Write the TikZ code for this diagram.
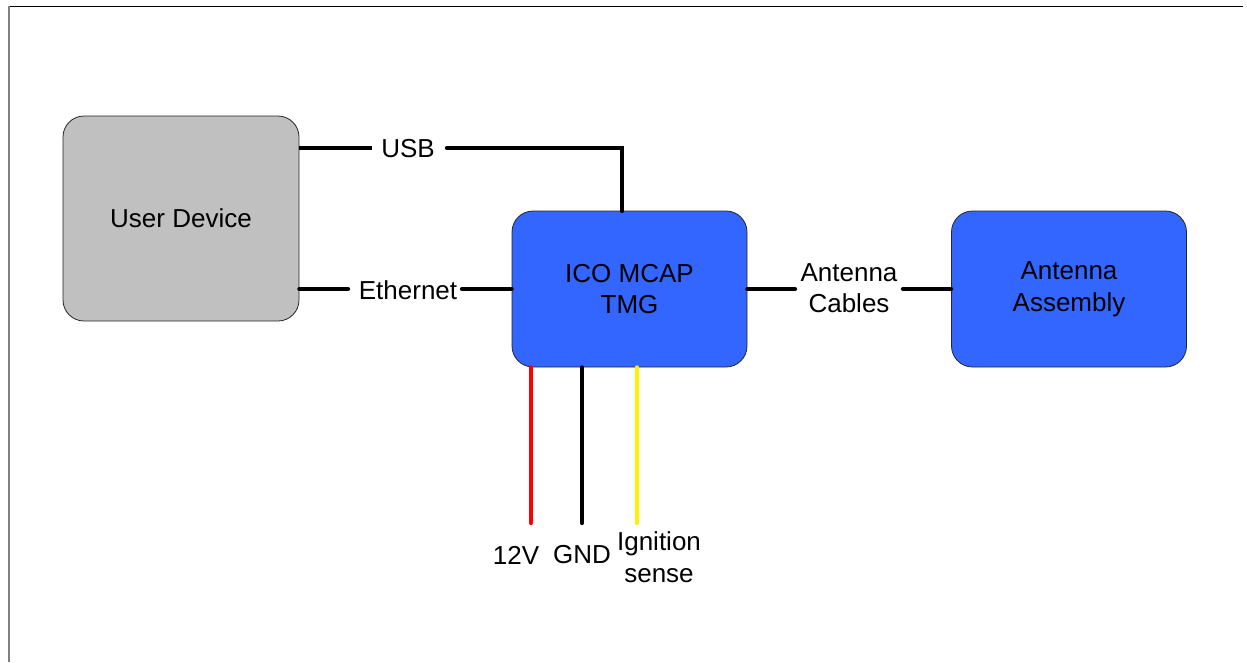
\documentclass[tikz,border=0pt]{standalone}
\usepackage{fontspec}
\setmainfont{Liberation Sans}
\definecolor{boxblue}{HTML}{3366FF}
\definecolor{boxgray}{HTML}{C0C0C0}
\definecolor{edgegray}{HTML}{808080}
\begin{document}
\begin{tikzpicture}[x=1pt,y=-1pt,
  txt/.style={font=\fontsize{26}{31.5}\selectfont,align=center,inner sep=0pt},
  blockbox/.style={draw=black!85,line width=0.8pt,rounded corners=21pt,minimum width=235pt,minimum height=156pt,inner sep=0pt,txt},
  wire/.style={line width=4.3pt,line cap=round},
  lbl/.style={txt}]
\useasboundingbox (0,0) rectangle (1247,662);
% frame
\draw[black,line width=1.2pt] (8,6.5) -- (1243,6.5);
\draw[edgegray,line width=2pt] (9,6) -- (9,662);
% blocks
\node[blockbox,fill=boxgray,minimum height=205pt,minimum width=236pt] (ud) at (181,218.5) {User Device};
\node[blockbox,fill=boxblue] (ico) at (629.5,289) {ICO MCAP\\TMG};
\node[blockbox,fill=boxblue] (ant) at (1069,289) {Antenna\\Assembly};
% labels
\node[lbl] (usb) at (408,149) {USB};
\node[lbl] (eth) at (408,290) {Ethernet};
\node[lbl] (cab) at (849,288) {Antenna\\Cables};
\node[lbl] (v12) at (516,555) {12V};
\node[lbl] (gnd) at (582,555) {GND};
\node[lbl] (ign) at (659,557) {Ignition\\sense};
% gap coordinates
\coordinate (usbL) at (372,148);
\coordinate (usbR) at (447,148);
\coordinate (ethL) at (348,289);
\coordinate (ethR) at (462,289);
\coordinate (cabL) at (795,289);
\coordinate (cabR) at (903,289);
\coordinate (redE) at (531,523);
\coordinate (blkE) at (582,523);
\coordinate (yelE) at (637,523);
% connectors
\draw[wire,line cap=butt] (ud.east |- usbL) -- (usbL);
\draw[wire,line join=miter] (usbR) -- (622,148) -- (622,211);
\draw[wire] (ud.east |- ethL) -- (ethL);
\draw[wire] (ethR) -- (ico.west |- ethR);
\draw[wire] (ico.east |- cabL) -- (cabL);
\draw[wire] (cabR) -- (ant.west |- cabR);
\draw[wire,red] (redE |- ico.south) -- (redE);
\draw[wire,black] (blkE |- ico.south) -- (blkE);
\draw[wire,yellow] (yelE |- ico.south) -- (yelE);
\end{tikzpicture}
\end{document}
